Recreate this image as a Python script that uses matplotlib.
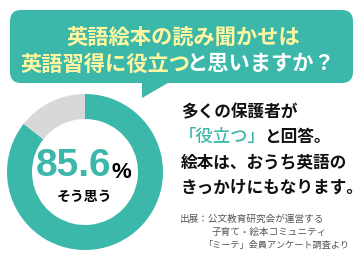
import matplotlib
matplotlib.use("Agg")
import matplotlib.pyplot as plt
from matplotlib.patches import FancyBboxPatch, Polygon

plt.rcParams['font.family'] = ['Noto Sans CJK JP', 'DejaVu Sans']

# data
labels = ["そう思う", "その他"]
shares = [85.6, 14.4]
title_1 = "英語絵本の読み聞かせは"
title_2a = "英語習得に役立つ"
title_2b = "と思いますか？"
note_lines = ["多くの保護者が", "「役立つ」", "と回答。", "絵本は、おうち英語の", "きっかけにもなります。"]
source_lines = ["出展：公文教育研究会が運営する", "子育て・絵本コミュニティ", "「ミーテ」会員アンケート調査より"]

teal = "#3bb8aa"
gray = "#d8d8d8"
yellow = "#fff6a0"

W, H = 364, 265
fig = plt.figure(figsize=(W / 100, H / 100), dpi=100)
ax = fig.add_axes([0, 0, 1, 1])

# donut (y axis is inverted, so startangle=-90 is 12 o'clock, counterclock=True is clockwise on screen)
ax.pie(shares, colors=[teal, gray], center=(85, 172), radius=78,
       startangle=-90, counterclock=True,
       wedgeprops=dict(width=25, linewidth=0))

ax.set_xlim(0, W)
ax.set_ylim(H, 0)
ax.set_aspect('equal')
ax.axis('off')

# speech bubble
ax.add_patch(FancyBboxPatch((10, 10), 343, 73, boxstyle="round,pad=0,rounding_size=11",
                            fc=teal, ec='none'))
ax.add_patch(Polygon([(142, 80), (142, 98), (173, 80)], closed=True, fc=teal, ec='none'))

ax.text(183, 37, title_1, color=yellow, fontsize=15.3, fontweight='bold', ha='center', va='center')
ax.text(20, 64, title_2a, color=yellow, fontsize=15.3, fontweight='bold', ha='left', va='center')
ax.text(186, 64, title_2b, color='white', fontsize=15.3, fontweight='bold', ha='left', va='center')

# center label
ax.text(111, 166, f"{shares[0]}", color=teal, fontsize=28, fontweight='bold',
        family='Liberation Sans', ha='right', va='center')
ax.text(112, 173, "%", color='black', fontsize=16, fontweight='bold',
        family='Liberation Sans', ha='left', va='center')
ax.text(85, 197, labels[0], color='black', fontsize=10, fontweight='bold', ha='center', va='center')

# right-hand note
ax.text(181, 112, note_lines[0], color='#111111', fontsize=12, fontweight='bold', va='center')
ax.text(179, 137, note_lines[1], color=teal, fontsize=12.5, fontweight='medium', va='center')
ax.text(264, 137, note_lines[2], color='#111111', fontsize=12, fontweight='bold', va='center')
ax.text(181, 162, note_lines[3], color='#111111', fontsize=12, fontweight='bold', va='center')
ax.text(181, 188, note_lines[4], color='#111111', fontsize=12, fontweight='bold', va='center')

ax.text(180, 219, source_lines[0], color='#555555', fontsize=6.9, va='center')
ax.text(212, 232, source_lines[1], color='#555555', fontsize=6.9, va='center')
ax.text(203, 245, source_lines[2], color='#555555', fontsize=6.6, va='center')

fig.savefig("out.png", dpi=100)
